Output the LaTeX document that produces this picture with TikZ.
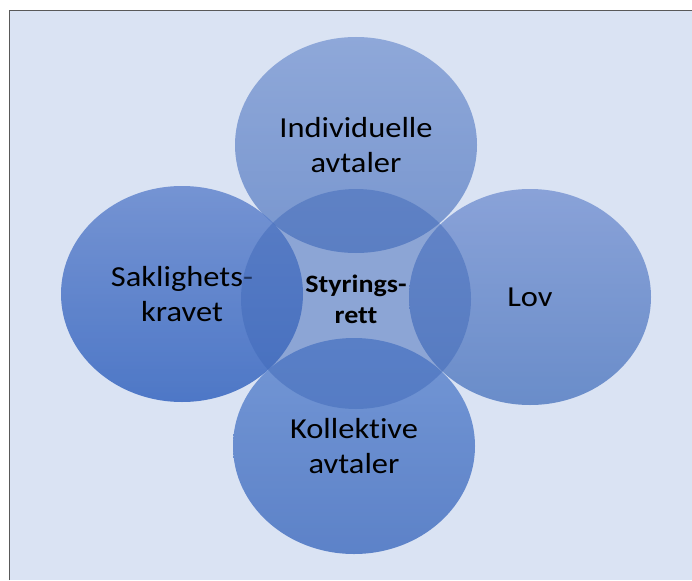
\documentclass[tikz,border=0pt]{standalone}
\usepackage{fontspec}
\setmainfont{Carlito}[FakeStretch=1.12, Ligatures={NoCommon}]
\usetikzlibrary{shapes.geometric}
\definecolor{bgc}{HTML}{DAE3F3}
\definecolor{framec}{HTML}{595959}
\definecolor{topA}{HTML}{5D81C8}
\definecolor{topB}{HTML}{3763B7}
\definecolor{leftA}{HTML}{5C80CB}
\definecolor{leftB}{HTML}{2B5DBC}
\definecolor{rightA}{HTML}{5F80CA}
\definecolor{rightB}{HTML}{2E5FB4}
\definecolor{botA}{HTML}{527ECC}
\definecolor{botB}{HTML}{3362BA}
\definecolor{midc}{HTML}{4069B9}
\tikzset{
  venn/.style={ellipse, draw=none, inner sep=0pt, align=center,
    font=\fontsize{29}{35.5}\selectfont, text=black, text opacity=1,
    minimum width=242pt, minimum height=216pt},
  core/.style={ellipse, draw=none, inner sep=0pt, align=center,
    font=\bfseries\fontsize{25}{31}\selectfont, text=black, text opacity=1,
    minimum width=230pt, minimum height=220pt}
}
\begin{document}
\begin{tikzpicture}[x=1pt,y=-1pt]
\useasboundingbox (0,0) rectangle (692,580);
\fill[white] (0,0) rectangle (692,580);
\fill[bgc] (9.5,10.5) rectangle (692,580);
\draw[framec, line width=1.5pt] (9.5,580) -- (9.5,10.5) -- (692,10.5);

\node[venn, top color=topA, bottom color=topB, fill opacity=0.6] (ind) at (356,145) {Individuelle\\avtaler};
\node[venn, top color=leftA, bottom color=leftB, fill opacity=0.8] (sak) at (182,294) {Saklighets-\\kravet};
\node[venn, top color=rightA, bottom color=rightB, fill opacity=0.65] (lov) at (530,297) {Lov};
\node[venn, top color=botA, bottom color=botB, fill opacity=0.75] (kol) at (354,446) {Kollektive\\avtaler};
\node[core, fill=midc, fill opacity=0.5] (sty) at (356,299) {Styrings-\\rett};
\end{tikzpicture}
\end{document}
